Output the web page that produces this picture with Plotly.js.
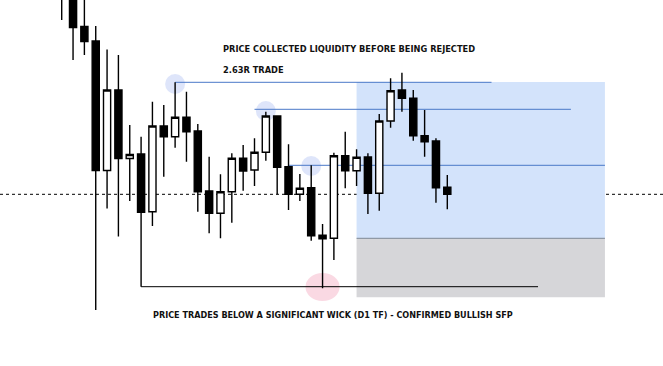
<!DOCTYPE html>
<html>
<head>
<meta charset="utf-8">
<script src="https://cdn.plot.ly/plotly-3.0.1.min.js"></script>
<style>html,body{margin:0;padding:0;background:#fff;}#chart{width:663px;height:366px;}</style>
</head>
<body>
<div id="chart"></div>
<script>
// Candle index (session number)
const candleIndex = [1,2,3,4,5,6,7,8,9,10,11,12,13,14,15,16,17,18,19,20,21,22,23,24,25,26,27,28,29,30,31,32,33,34,35];
const openPrices  = [395,371,339.5,325,195.5,276,207.5,212,154.3,240,229.3,248.7,235,175,152.7,174.3,207.7,196,213.7,250,199.3,171.7,178.3,130.7,127.7,210.3,195.3,209,172.7,245,276,267.7,230.3,225,178.7];
const highPrices  = [400,380,375,340,316.5,311,241,229.3,264.3,261,283.7,274.3,242,209.3,191.7,212.7,221,227.7,254.3,250,221.7,192,200.7,142,213.3,234.3,216.7,212.7,252,287.7,293.3,276,256,227.7,191];
const lowPrices   = [346,306,311,56,157.5,129.5,165,79.3,140,189.3,218.3,204.3,154.3,132.7,127.7,143.3,175.3,180,205.3,171.7,156,165,125.3,77.7,106,177.7,180,152,155.3,238.3,254.3,225.3,209.3,163.3,156.7];
const closePrices = [375,338.5,324.5,195.5,276,207.5,211.5,153.7,240,229.3,248.7,234.3,174.3,152.7,174.3,207.7,195,213.7,250,198.7,171.7,177.7,130.3,127.3,210.3,195.3,208.7,172.7,245,275.3,267.7,230.3,224.3,178.3,171.7];

// Trade levels
const targetLevels = [283.7, 256.7, 200.7];   // liquidity / TP lines
const targetStart  = [11, 18, 21];
const targetEnd    = [38.9, 45.9, 48.9];
const entryLevel = 171.7;
const stopLevel  = 127.7;
const tradeTop   = 284;
const tradeBottom = 68.7;
const tradeStart = 27;
const tradeEnd   = 48.9;
const wickLevel  = 79.3;   // significant wick low (D1 TF)
const wickStart  = 8;
const wickEnd    = 43;
// Highlight circles: [candle index, price]
const liquidityMarks = [[11, 282], [19, 255], [23, 200]];
const sfpMark = [24, 79];

const labels = [
  "PRICE COLLECTED LIQUIDITY BEFORE BEING REJECTED",
  "2.63R TRADE",
  "PRICE TRADES BELOW A SIGNIFICANT WICK (D1 TF) - CONFIRMED BULLISH SFP"
];

const trace = {
  type: 'candlestick',
  x: candleIndex, open: openPrices, high: highPrices, low: lowPrices, close: closePrices,
  increasing: {line: {color: '#000000', width: 1.4}, fillcolor: '#ffffff'},
  decreasing: {line: {color: '#000000', width: 1.4}, fillcolor: '#000000'},
  whiskerwidth: 0,
  hoverinfo: 'none'
};

const shapes = [];
// trade box: reward (blue) and risk (gray)
shapes.push({type:'rect', xref:'x', yref:'y', x0:tradeStart, x1:tradeEnd, y0:stopLevel, y1:tradeTop, fillcolor:'#d3e3fb', line:{width:0}, layer:'below'});
shapes.push({type:'rect', xref:'x', yref:'y', x0:tradeStart, x1:tradeEnd, y0:tradeBottom, y1:stopLevel, fillcolor:'#d6d6d9', line:{width:0}, layer:'below'});
shapes.push({type:'line', xref:'x', yref:'y', x0:tradeStart, x1:tradeEnd, y0:stopLevel, y1:stopLevel, line:{color:'#7d8797', width:1}, layer:'below'});
// circles
liquidityMarks.forEach(m => {
  shapes.push({type:'circle', xref:'x', yref:'y', x0:m[0]-0.88, x1:m[0]+0.88, y0:m[1]-10, y1:m[1]+10, fillcolor:'rgba(160,180,240,0.35)', line:{width:0}, layer:'below'});
});
shapes.push({type:'circle', xref:'x', yref:'y', x0:sfpMark[0]-1.5, x1:sfpMark[0]+1.5, y0:sfpMark[1]-14, y1:sfpMark[1]+14, fillcolor:'rgba(245,180,200,0.5)', line:{width:0}, layer:'below'});
// target lines
targetLevels.forEach((lv, i) => {
  shapes.push({type:'line', xref:'x', yref:'y', x0:targetStart[i], x1:targetEnd[i], y0:lv, y1:lv, line:{color:'#4a78c8', width:1}, layer:'below'});
});
// entry dotted line
shapes.push({type:'line', xref:'paper', yref:'y', x0:0, x1:1, y0:entryLevel, y1:entryLevel, line:{color:'#000000', width:1, dash:'dot'}, layer:'below'});
// wick level line
shapes.push({type:'line', xref:'x', yref:'y', x0:wickStart, x1:wickEnd, y0:wickLevel, y1:wickLevel, line:{color:'#000000', width:1}, layer:'below'});

const fontTop = {family:'DejaVu Sans Condensed, DejaVu Sans', size:9.2, color:'#111111', weight:'bold'};
const fontBottom = {family:'DejaVu Sans Condensed, DejaVu Sans', size:9.0, color:'#111111', weight:'bold'};
const annotations = [
  {text:labels[0], xref:'paper', yref:'paper', x:221/663, y:1-48/366, xanchor:'left', yanchor:'middle', showarrow:false, font:fontTop},
  {text:labels[1], xref:'paper', yref:'paper', x:221/663, y:1-69/366, xanchor:'left', yanchor:'middle', showarrow:false, font:fontTop},
  {text:labels[2], xref:'paper', yref:'paper', x:151/663, y:1-315/366, xanchor:'left', yanchor:'middle', showarrow:false, font:fontBottom}
];

const layout = {
  width:663, height:366,
  margin:{l:0, r:0, t:0, b:0},
  paper_bgcolor:'#ffffff', plot_bgcolor:'#ffffff',
  showlegend:false,
  xaxis:{range:[-4.441, 54.02], visible:false, rangeslider:{visible:false}, fixedrange:true},
  yaxis:{range:[0, 366], visible:false, fixedrange:true},
  shapes:shapes, annotations:annotations,
  boxgap:0.1
};

Plotly.newPlot('chart', [trace], layout, {staticPlot:true, displayModeBar:false});
</script>
</body>
</html>
